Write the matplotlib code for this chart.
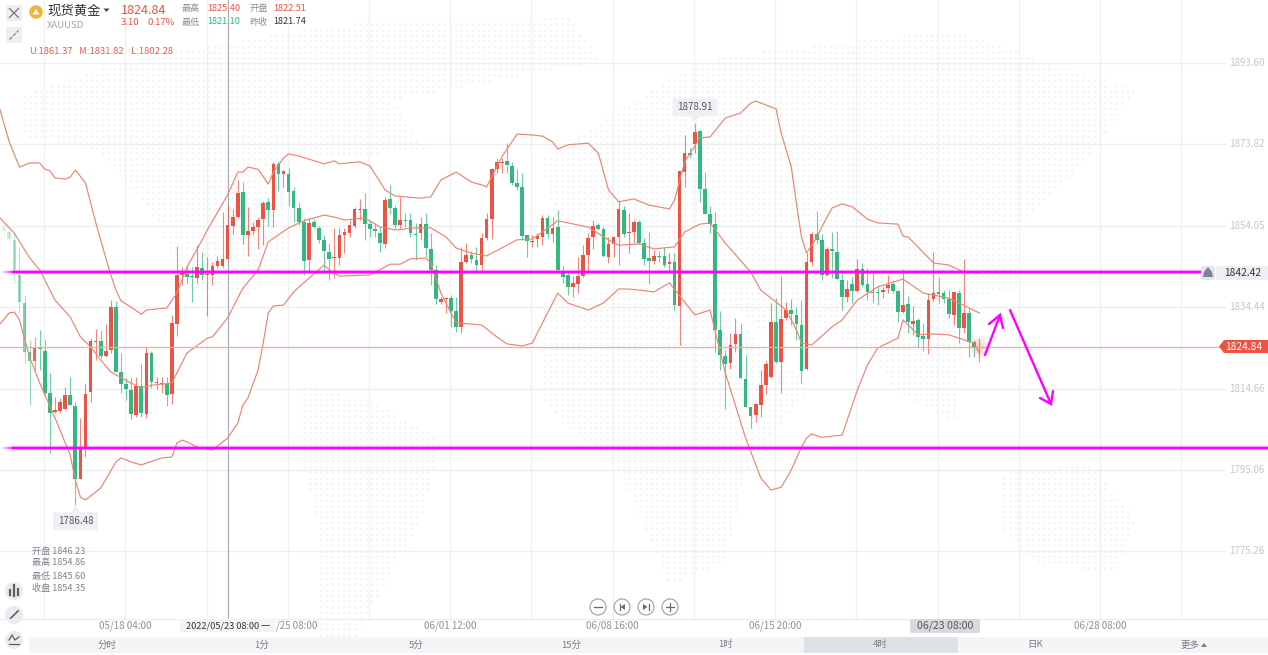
import numpy as np
import matplotlib
matplotlib.use('Agg')
import matplotlib.pyplot as plt
from matplotlib.patches import Circle, FancyBboxPatch, Polygon, Rectangle
from matplotlib.path import Path

plt.rcParams['font.family'] = ['Noto Sans CJK SC', 'DejaVu Sans']

# 4 hour candles
opens = [1853.8, 1852.6, 1850.7, 1842.2, 1835.4, 1823.5, 1821.4, 1824.5, 1823.8, 1813.6,
         1809.0, 1809.3, 1809.7, 1813.1, 1810.5, 1792.8, 1800.5, 1813.9, 1826.0, 1826.2,
         1822.6, 1824.0, 1834.4, 1818.7, 1815.8, 1814.3, 1808.3, 1815.3, 1808.5, 1823.3,
         1816.0, 1815.8, 1815.8, 1813.4, 1830.3, 1842.2, 1842.4, 1841.9, 1841.5, 1843.9,
         1842.2, 1842.2, 1844.4, 1844.4, 1846.1, 1854.0, 1856.2, 1862.3, 1851.9, 1852.8,
         1853.8, 1855.7, 1859.9, 1857.9, 1869.1, 1866.6, 1866.6, 1862.5, 1858.4, 1855.0,
         1845.8, 1855.0, 1853.6, 1850.7, 1847.8, 1846.3, 1846.3, 1851.9, 1852.4, 1854.0,
         1857.9, 1858.2, 1854.5, 1853.3, 1852.4, 1849.7, 1860.6, 1858.4, 1854.3, 1855.5,
         1855.5, 1852.1, 1852.4, 1854.5, 1848.5, 1843.4, 1835.6, 1836.4, 1836.6, 1833.5,
         1829.6, 1845.3, 1847.0, 1845.8, 1844.6, 1851.2, 1855.7, 1867.9, 1869.3, 1869.8,
         1868.6, 1864.5, 1863.5, 1851.9, 1850.2, 1850.9, 1851.4, 1856.0, 1852.1, 1853.8,
         1843.2, 1842.2, 1839.3, 1840.0, 1841.9, 1847.0, 1851.4, 1854.3, 1853.3, 1846.5,
         1849.7, 1851.4, 1857.9, 1852.4, 1852.6, 1855.0, 1849.9, 1846.3, 1845.6, 1846.8,
         1846.8, 1844.8, 1845.3, 1834.7, 1867.1, 1871.7, 1873.9, 1877.0, 1863.0, 1857.0,
         1854.5, 1828.9, 1822.6, 1820.9, 1825.5, 1827.9, 1817.0, 1810.2, 1808.3, 1810.7,
         1815.5, 1817.5, 1830.8, 1821.1, 1831.8, 1833.7, 1832.5, 1830.1, 1819.4, 1845.3,
         1852.1, 1850.7, 1842.2, 1848.5, 1847.8, 1841.0, 1836.9, 1840.0, 1838.3, 1843.6,
         1840.0, 1837.8, 1838.1, 1838.1, 1839.0, 1840.0, 1838.3, 1833.2, 1835.2, 1830.3,
         1831.3, 1827.4, 1826.7, 1836.4, 1838.1, 1837.8, 1836.4, 1832.5, 1837.8, 1829.4,
         1833.0, 1825.9, 1824.4]
closes = [1852.8, 1850.9, 1843.4, 1835.6, 1823.5, 1821.4, 1824.8, 1824.3, 1813.6, 1808.8,
          1809.5, 1811.4, 1813.1, 1810.7, 1792.8, 1800.3, 1813.4, 1826.2, 1826.2, 1822.6,
          1823.8, 1834.4, 1818.7, 1815.8, 1814.6, 1808.5, 1815.3, 1808.8, 1823.3, 1816.3,
          1816.3, 1816.0, 1813.1, 1830.6, 1842.2, 1842.9, 1841.7, 1841.7, 1844.1, 1842.2,
          1842.4, 1844.4, 1845.6, 1846.1, 1854.3, 1856.2, 1862.0, 1851.9, 1852.8, 1853.8,
          1855.5, 1859.6, 1857.9, 1869.1, 1866.6, 1867.4, 1862.3, 1858.4, 1855.0, 1845.6,
          1854.8, 1853.8, 1850.7, 1848.0, 1846.1, 1846.5, 1851.9, 1852.6, 1854.3, 1858.2,
          1858.2, 1854.5, 1853.3, 1852.8, 1849.9, 1860.3, 1858.4, 1854.3, 1855.5, 1855.3,
          1852.4, 1851.9, 1854.5, 1848.7, 1843.4, 1836.4, 1836.4, 1836.6, 1833.5, 1829.6,
          1845.3, 1847.0, 1846.1, 1844.6, 1851.2, 1855.7, 1867.9, 1869.5, 1869.5, 1868.8,
          1864.5, 1863.5, 1851.6, 1850.4, 1850.4, 1851.6, 1856.0, 1852.1, 1853.6, 1843.4,
          1841.7, 1839.3, 1840.3, 1841.9, 1847.0, 1851.2, 1854.0, 1853.3, 1846.8, 1849.7,
          1851.4, 1858.2, 1852.1, 1852.6, 1855.0, 1849.9, 1846.1, 1845.6, 1846.8, 1846.5,
          1844.6, 1845.3, 1834.9, 1867.4, 1871.7, 1871.2, 1876.8, 1863.0, 1857.0, 1854.5,
          1828.9, 1822.8, 1820.6, 1825.2, 1827.9, 1817.2, 1810.2, 1808.0, 1811.0, 1815.5,
          1820.6, 1830.8, 1821.1, 1831.5, 1833.7, 1832.7, 1830.3, 1818.9, 1845.3, 1852.1,
          1850.7, 1842.2, 1848.5, 1848.0, 1841.2, 1836.9, 1838.8, 1838.3, 1843.6, 1839.8,
          1838.1, 1838.1, 1837.8, 1838.5, 1839.8, 1838.3, 1833.2, 1834.9, 1830.8, 1831.0,
          1827.2, 1826.7, 1836.1, 1837.8, 1837.6, 1836.4, 1832.7, 1838.1, 1829.4, 1833.0,
          1825.9, 1824.5, 1824.84]
highs = [1854.5, 1853.3, 1852.3, 1849.0, 1837.3, 1826.4, 1827.2, 1828.9, 1826.4, 1818.5,
         1812.6, 1812.4, 1815.1, 1817.5, 1811.4, 1807.6, 1816.0, 1826.9, 1829.1, 1828.9,
         1830.3, 1836.1, 1835.9, 1823.3, 1817.2, 1817.5, 1817.5, 1820.6, 1824.8, 1823.8,
         1817.5, 1817.5, 1817.5, 1832.5, 1849.2, 1844.1, 1844.6, 1844.1, 1849.4, 1847.8,
         1846.5, 1845.3, 1846.8, 1857.4, 1859.1, 1858.2, 1865.2, 1864.7, 1858.7, 1855.0,
         1856.2, 1860.1, 1860.8, 1869.5, 1869.8, 1867.6, 1868.1, 1863.5, 1859.9, 1856.0,
         1856.0, 1855.7, 1854.0, 1851.9, 1849.9, 1853.6, 1853.6, 1853.6, 1855.5, 1858.7,
         1860.6, 1862.0, 1855.5, 1854.8, 1853.8, 1861.1, 1864.0, 1859.1, 1861.1, 1857.2,
         1857.2, 1854.8, 1856.2, 1857.2, 1852.4, 1844.6, 1836.9, 1836.9, 1837.3, 1836.9,
         1849.0, 1849.9, 1848.0, 1849.0, 1852.4, 1857.2, 1868.1, 1870.5, 1870.5, 1874.1,
         1869.5, 1867.9, 1866.9, 1851.9, 1851.9, 1852.4, 1856.7, 1856.7, 1856.2, 1857.9,
         1844.4, 1842.9, 1841.9, 1846.5, 1849.4, 1852.4, 1855.5, 1854.8, 1853.8, 1851.4,
         1851.6, 1860.3, 1858.9, 1857.2, 1855.5, 1855.5, 1851.2, 1852.6, 1848.2, 1848.0,
         1849.0, 1847.5, 1847.5, 1867.4, 1876.1, 1872.9, 1878.9, 1877.3, 1867.1, 1858.9,
         1857.4, 1833.5, 1824.0, 1828.1, 1831.8, 1830.6, 1822.8, 1810.2, 1811.2, 1819.2,
         1821.4, 1835.4, 1836.6, 1841.9, 1835.6, 1836.4, 1834.4, 1836.1, 1847.5, 1852.6,
         1857.7, 1852.1, 1849.0, 1852.6, 1852.8, 1842.9, 1841.0, 1841.7, 1846.1, 1845.1,
         1843.9, 1842.9, 1839.8, 1839.3, 1842.2, 1841.0, 1838.5, 1843.6, 1837.1, 1834.7,
         1831.8, 1830.6, 1837.8, 1847.8, 1841.7, 1838.5, 1838.5, 1838.1, 1838.5, 1846.1,
         1834.2, 1826.4, 1826.9]
lows = [1851.6, 1849.9, 1840.3, 1833.0, 1820.9, 1810.7, 1819.2, 1819.2, 1812.6, 1799.1,
        1808.8, 1808.8, 1809.5, 1810.7, 1786.5, 1792.8, 1798.1, 1811.4, 1821.6, 1822.1,
        1822.3, 1823.3, 1818.7, 1813.6, 1811.9, 1807.3, 1807.8, 1807.8, 1807.6, 1814.8,
        1814.6, 1813.6, 1810.5, 1811.0, 1827.4, 1839.8, 1840.3, 1835.6, 1840.3, 1841.0,
        1832.3, 1839.8, 1843.9, 1843.9, 1846.1, 1852.1, 1856.0, 1849.7, 1846.8, 1851.9,
        1848.5, 1849.4, 1854.0, 1853.8, 1862.5, 1863.5, 1858.9, 1855.0, 1854.3, 1842.2,
        1842.9, 1853.6, 1849.9, 1842.9, 1841.0, 1841.5, 1844.6, 1847.5, 1851.4, 1853.6,
        1855.5, 1850.7, 1851.4, 1851.4, 1847.8, 1848.7, 1857.0, 1853.6, 1853.6, 1853.8,
        1851.4, 1845.8, 1850.7, 1846.5, 1839.8, 1835.2, 1835.2, 1833.0, 1829.6, 1828.4,
        1828.1, 1845.1, 1845.1, 1842.9, 1843.4, 1850.7, 1850.9, 1866.9, 1866.9, 1866.9,
        1864.0, 1862.8, 1850.7, 1846.5, 1849.0, 1849.0, 1849.4, 1851.2, 1850.2, 1843.4,
        1840.3, 1837.3, 1836.9, 1837.8, 1841.7, 1842.7, 1848.5, 1853.1, 1846.5, 1845.1,
        1846.5, 1844.6, 1851.4, 1847.5, 1849.9, 1849.7, 1844.6, 1840.0, 1844.8, 1845.3,
        1844.1, 1842.9, 1833.7, 1825.2, 1863.5, 1870.5, 1871.7, 1859.9, 1857.0, 1852.4,
        1823.5, 1819.2, 1809.7, 1819.4, 1823.5, 1817.2, 1810.2, 1805.1, 1806.6, 1807.8,
        1813.4, 1817.2, 1820.9, 1813.6, 1831.3, 1830.1, 1826.4, 1816.0, 1819.2, 1844.4,
        1849.7, 1841.0, 1841.9, 1841.5, 1841.0, 1833.7, 1835.6, 1835.4, 1838.1, 1839.3,
        1836.1, 1835.6, 1834.9, 1836.6, 1837.8, 1837.8, 1830.8, 1833.0, 1828.1, 1827.7,
        1824.8, 1823.8, 1823.1, 1835.6, 1835.4, 1835.4, 1831.8, 1830.1, 1825.7, 1828.1,
        1822.3, 1822.3, 1821.1]

# bollinger bands, (bar number, price) at the bends of each line
upper_i = [-1, 1, 3, 5, 7, 8, 9, 10, 12, 13, 14, 16, 18, 20, 21, 22, 23, 25, 27, 28, 32, 34, 36, 39, 40,
           44, 46, 47, 48, 50, 52, 53, 55, 56, 58, 63, 65, 66, 70, 72, 75, 77, 82, 84, 86, 89, 92, 94, 95,
           98, 101, 104, 106, 108, 109, 111, 115, 117, 119, 121, 124, 127, 131, 132, 134, 137, 139, 142,
           145, 147, 148, 152, 153, 155, 156, 157, 158, 160, 161, 163, 165, 167, 170, 172, 176, 177, 178,
           183, 186, 189, 192]
upper_p = [1882.9, 1874.4, 1868.3, 1869.3, 1869.3, 1867.8, 1867.4, 1865.7, 1865.4, 1865.9, 1867.6, 1864.5,
           1855.0, 1846.3, 1842.2, 1838.5, 1835.9, 1834.4, 1832.7, 1833.7, 1834.2, 1837.8, 1844.1, 1850.7,
           1853.1, 1861.6, 1867.1, 1867.1, 1868.3, 1867.8, 1864.2, 1867.1, 1870.5, 1871.5, 1871.0, 1869.1,
           1869.8, 1869.1, 1869.6, 1868.6, 1862.8, 1861.3, 1860.8, 1861.1, 1865.2, 1867.1, 1864.7, 1864.0,
           1863.5, 1870.8, 1876.3, 1876.1, 1875.8, 1874.4, 1872.7, 1873.7, 1874.1, 1871.7, 1862.8, 1859.9,
           1860.6, 1859.1, 1858.2, 1860.3, 1869.6, 1875.4, 1875.6, 1880.2, 1881.4, 1883.8, 1884.3, 1882.4,
           1876.6, 1868.3, 1859.6, 1851.4, 1847.5, 1851.2, 1853.8, 1858.4, 1859.4, 1858.7, 1855.7, 1854.8,
           1854.5, 1851.6, 1851.4, 1845.1, 1844.6, 1842.9, 1842.7]
middle_i = [-1, 2, 5, 7, 10, 13, 15, 17, 19, 21, 25, 27, 29, 33, 35, 36, 40, 41, 44, 47, 50, 52, 56, 59, 63,
            65, 67, 71, 74, 77, 81, 84, 87, 89, 92, 95, 101, 104, 106, 109, 115, 119, 121, 125, 128, 132,
            134, 137, 139, 142, 147, 149, 151, 154, 156, 157, 159, 163, 165, 168, 172, 177, 181, 186, 192]
middle_p = [1856.2, 1852.3, 1846.3, 1843.4, 1836.1, 1832.0, 1827.2, 1824.8, 1821.6, 1818.7, 1816.0, 1814.8,
            1815.5, 1816.0, 1820.9, 1823.3, 1826.9, 1827.2, 1831.8, 1839.0, 1843.4, 1850.2, 1853.6, 1855.3,
            1856.7, 1856.2, 1855.5, 1856.0, 1853.8, 1853.1, 1853.6, 1853.6, 1851.4, 1848.7, 1847.5, 1846.8,
            1850.7, 1850.9, 1852.6, 1855.3, 1853.8, 1850.7, 1849.4, 1849.7, 1848.5, 1849.0, 1852.6, 1854.5,
            1854.8, 1849.9, 1842.9, 1838.5, 1836.6, 1833.7, 1828.9, 1825.7, 1825.2, 1829.6, 1831.3, 1836.1,
            1839.3, 1841.2, 1837.8, 1836.6, 1833.0]
lower_i = [-1, 1, 2, 3, 5, 7, 10, 13, 14, 15, 16, 19, 22, 23, 25, 27, 31, 33, 34, 35, 36, 38, 41, 44, 46, 47,
           48, 50, 51, 52, 53, 55, 57, 59, 63, 64, 66, 72, 76, 78, 80, 83, 84, 86, 89, 94, 97, 99, 102, 104,
           106, 109, 111, 115, 118, 121, 123, 128, 131, 136, 139, 142, 146, 149, 151, 153, 155, 157, 158,
           159, 161, 165, 168, 170, 172, 176, 177, 180, 183, 186, 188, 191, 192]
lower_p = [1830.1, 1833.0, 1833.2, 1831.3, 1822.3, 1816.0, 1807.6, 1798.6, 1792.5, 1788.4, 1787.7, 1790.6,
           1796.9, 1797.9, 1796.9, 1796.2, 1797.9, 1798.1, 1801.5, 1802.2, 1801.8, 1800.5, 1799.8, 1802.7,
           1806.3, 1810.7, 1812.4, 1819.2, 1825.7, 1833.0, 1834.7, 1834.9, 1838.1, 1840.3, 1844.6, 1843.4,
           1841.9, 1842.2, 1844.8, 1844.8, 1846.1, 1846.3, 1845.1, 1837.8, 1830.6, 1830.1, 1827.2, 1825.5,
           1825.0, 1825.7, 1830.6, 1837.8, 1835.4, 1833.7, 1835.4, 1838.8, 1838.8, 1838.1, 1840.3, 1832.5,
           1833.7, 1818.5, 1802.7, 1793.0, 1790.1, 1790.8, 1795.0, 1800.5, 1802.7, 1803.7, 1802.9, 1803.4,
           1814.3, 1820.4, 1824.5, 1826.9, 1831.3, 1827.7, 1827.9, 1827.7, 1826.9, 1825.7, 1823.3]

price_ticks = [1893.60, 1873.82, 1854.05, 1834.44, 1814.66, 1795.06, 1775.26]
date_labels = ['05/18 04:00', '/25 08:00', '06/01 12:00', '06/08 16:00', '06/15 20:00', '06/28 08:00']
date_x = [125, 297, 450, 612, 775, 1100]
crosshair_date = '2022/05/23 08:00 一'
last_price = 1824.84
alert_price = 1842.42
support = 1800.3
resistance = 1842.9
tabs = ['分时', '1分', '5分', '15分', '1时', '4时', '日K', '更多']

RED = '#ec5344'
GREEN = '#35b880'
BAND = '#e98672'
MAGENTA = '#ff00ff'

W, H = 1268, 655
fig = plt.figure(figsize=(W / 100, H / 100), dpi=100, facecolor='white')

# background layer + overlay layer work in screen pixels
bg = fig.add_axes([0, 0, 1, 1], zorder=0)
ax = fig.add_axes([0, 0, 1, 1], zorder=1)
ui = fig.add_axes([0, 0, 1, 1], zorder=2)
for a in (bg, ui):
    a.set_xlim(0, W)
    a.set_ylim(H, 0)
    a.axis('off')
ui.patch.set_alpha(0)
ax.patch.set_alpha(0)

# faint dotted world map
continents = [
    [(20, 95), (130, 60), (330, 25), (570, 18), (600, 60), (390, 100), (425, 150), (280, 160), (290, 250),
     (250, 295), (190, 290), (150, 210), (100, 150), (20, 135)],
    [(300, 385), (370, 400), (440, 440), (420, 520), (375, 600), (345, 655), (320, 640), (320, 530), (300, 450)],
    [(540, 160), (700, 60), (950, 30), (1135, 90), (1085, 160), (1015, 230), (1020, 285), (965, 300), (955, 420),
     (900, 395), (860, 340), (760, 330), (690, 270), (560, 240)],
    [(540, 300), (690, 280), (770, 350), (810, 385), (745, 470), (725, 560), (670, 585), (620, 470), (540, 400)],
    [(1005, 470), (1090, 465), (1135, 520), (1115, 570), (1040, 565), (1000, 530)],
]
gx, gy = np.meshgrid(np.arange(2, W, 5.6), np.arange(2, H, 5.6))
pts = np.column_stack([gx.ravel(), gy.ravel()])
mask = np.zeros(len(pts), dtype=bool)
for c in continents:
    mask |= Path(c).contains_points(pts)
bg.scatter(pts[mask, 0], pts[mask, 1], s=4, color='#f4f5f7', linewidths=0)

# pixel x = 4.2 + 5.078 * bar, pixel y = (1908.77 - price) * 4.13
ax.set_xlim(-4.2 / 5.078, (W - 4.2) / 5.078)
ax.set_ylim(1908.77 - H / 4.13, 1908.77)
ax.axis('off')

bars = np.arange(len(closes))
for k in range(15):
    ax.plot([7.84 + 16 * k] * 2, [1908.77 - 619 / 4.13, 1908.77], color='#eef0f3', lw=0.9, zorder=1)
for p in price_ticks:
    ax.plot([-1, (1225 - 4.2) / 5.078], [p, p], color='#eceef2', lw=0.9, zorder=1)

ax.plot([44, 44], [1908.77 - 619 / 4.13, 1908.77], color='#a4a8ba', lw=0.8, zorder=2)

# candles, the oldest ones fade out at the left edge
for i in bars:
    up = closes[i] >= opens[i]
    col = RED if up else GREEN
    fade = min(1, 0.15 + i * 0.12)
    ax.plot([i, i], [lows[i], highs[i]], color=col, lw=0.8, alpha=0.7 * fade, zorder=3, solid_capstyle='butt')
    ax.bar(i, abs(closes[i] - opens[i]), bottom=min(opens[i], closes[i]), width=0.72, color=col,
           alpha=fade, linewidth=0, zorder=4)

ax.plot(upper_i, upper_p, color=BAND, lw=0.85, zorder=5, solid_joinstyle='round')
ax.plot(middle_i, middle_p, color=BAND, lw=0.85, zorder=5, solid_joinstyle='round')
ax.plot(lower_i, lower_p, color=BAND, lw=0.85, zorder=5, solid_joinstyle='round')

ax.plot([-1, (1219 - 4.2) / 5.078], [last_price, last_price], color='#f5a99f', lw=0.9, zorder=5)

# glow on the live candle
for r, al in zip([11, 8, 5], [0.06, 0.08, 0.1]):
    ui.add_patch(Circle((979, 347), r, color=RED, alpha=al, lw=0))

# hand drawn levels
ax.plot([(14 - 4.2) / 5.078, (1205 - 4.2) / 5.078], [resistance, resistance], color=MAGENTA, lw=3, alpha=0.3, zorder=6)
ax.plot([(14 - 4.2) / 5.078, (1205 - 4.2) / 5.078], [resistance, resistance], color=MAGENTA, lw=1.7, zorder=7)
ax.plot([(14 - 4.2) / 5.078, (W - 4.2) / 5.078], [support, support], color=MAGENTA, lw=3, alpha=0.3, zorder=6)
ax.plot([(14 - 4.2) / 5.078, (W - 4.2) / 5.078], [support, support], color=MAGENTA, lw=1.7, zorder=7)
for x in range(0, 14):
    for lvl in (resistance, support):
        ax.plot([(x - 4.2) / 5.078, (x + 1 - 4.2) / 5.078], [lvl, lvl], color=MAGENTA, lw=1.7,
                alpha=x / 14, zorder=7, solid_capstyle='butt')

for seg in ([(985, 355), (1000, 315)], [(989, 324), (1000, 315), (1003, 328)],
            [(1010, 310), (1051, 404)], [(1040, 398), (1051, 404), (1053, 391)]):
    ui.plot(*zip(*seg), color=MAGENTA, lw=1.7, solid_capstyle='round', solid_joinstyle='miter')

# price axis
for p in price_ticks:
    ui.text(1229, (1908.77 - p) * 4.13, f'{p:.2f}', color='#c3c7cf', fontsize=7, va='center', ha='left')
ui.add_patch(Polygon([(1219, 346.5), (1224, 340), (1268, 340), (1268, 353), (1224, 353)], color=RED, lw=0))
ui.text(1244, 346.5, f'{last_price:.2f}', color='white', fontsize=7.3, va='center', ha='center')
ui.add_patch(Rectangle((1216, 266), 52, 14, color='#eeeff4', lw=0))
ui.text(1243, 273, f'{alert_price:.2f}', color='#333333', fontsize=7.3, va='center', ha='center')
ui.add_patch(FancyBboxPatch((1203, 268), 10, 10, boxstyle='round,pad=2', color='#e4e6ec', lw=0))
ui.add_patch(Polygon([(1208, 267), (1212, 272), (1213, 277), (1203, 277), (1204, 272)], color='#7d8290', lw=0))

# high / low tags
for cx, top, pointer, txt in [(695, 99, 122, '1878.91'), (75.5, 513, 506, '1786.48')]:
    ui.add_patch(FancyBboxPatch((cx - 21, top + 1), 42, 15, boxstyle='round,pad=1.5', color='#eef0f3', lw=0))
    if pointer > top:
        ui.add_patch(Polygon([(cx - 5, top + 17), (cx + 5, top + 17), (cx, pointer)], color='#eef0f3', lw=0))
    else:
        ui.add_patch(Polygon([(cx - 5, top), (cx + 5, top), (cx, pointer)], color='#eef0f3', lw=0))
    ui.text(cx, top + 8.5, txt, color='#55585f', fontsize=7, va='center', ha='center')

# header
ui.add_patch(FancyBboxPatch((7, 6), 14, 14, boxstyle='round,pad=1', color='#eceef1', lw=0))
ui.plot([9.5, 18.5], [8.5, 17.5], color='#6f7580', lw=0.9)
ui.plot([18.5, 9.5], [8.5, 17.5], color='#6f7580', lw=0.9)
ui.add_patch(FancyBboxPatch((7, 28), 14, 14, boxstyle='round,pad=1', color='#eceef1', lw=0))
ui.plot([9.5, 18.5], [39.5, 30.5], color='#7d8290', lw=0.9, ls=(0, (3, 1)))
ui.add_patch(Circle((36, 12), 6.8, color='#f2b33a', lw=0))
ui.add_patch(Polygon([(32.5, 14.5), (36, 9), (39.5, 14.5)], color='white', lw=0))
ui.text(47, 10.5, '现货黄金', color='#333333', fontsize=9.6, va='center', ha='left')
ui.add_patch(Polygon([(103.5, 8.5), (109.5, 8.5), (106.5, 12)], color='#444444', lw=0))
ui.text(47, 25, 'XAUUSD', color='#a0a4ac', fontsize=6.9, va='center', ha='left')
ui.text(121, 10, '1824.84', color=RED, fontsize=9.0, va='center', ha='left')
ui.text(121, 22.5, '3.10', color=RED, fontsize=6.8, va='center', ha='left')
ui.text(148, 22.5, '0.17%', color=RED, fontsize=6.8, va='center', ha='left')
for x, y, txt, col in [(182, 8.5, '最高', '#8a8e96'), (207, 8.5, '1825.40', RED),
                       (249, 8.5, '开盘', '#8a8e96'), (273, 8.5, '1822.51', RED),
                       (182, 22, '最低', '#8a8e96'), (207, 22, '1821.10', GREEN),
                       (249, 22, '昨收', '#8a8e96'), (273, 22, '1821.74', '#333333')]:
    ui.text(x, y, txt, color=col, fontsize=6.6, va='center', ha='left')
for x, txt in [(29, 'U:1861.37'), (79, 'M:1831.82'), (131, 'L:1802.28')]:
    ui.text(x, 51.5, txt, color='#e4604f', fontsize=6.8, va='center', ha='left')

# ohlc of the hovered candle
for y, txt in [(551, '开盘 1846.23'), (563, '最高 1854.86'), (576, '最低 1845.60'), (588, '收盘 1854.35')]:
    ui.text(32, y, txt, color='#80848c', fontsize=6.6, va='center', ha='left')

# left tool buttons
for y in (591, 615, 640):
    ui.add_patch(Circle((14, y), 9, color='#e9ebef', lw=0))
for dx, y0, y1 in [(-4, 590, 595), (0, 585, 596), (4, 589, 595)]:
    ui.plot([14 + dx, 14 + dx], [y0, y1], color='#59606e', lw=1.6)
ui.plot([10, 18], [619, 611], color='#59606e', lw=1.2)
ui.plot([9, 12, 15, 19], [640, 635, 640, 637], color='#59606e', lw=0.9)
ui.plot([9, 19], [644, 644], color='#59606e', lw=0.9)

# zoom buttons
for x in (598, 622, 646, 670):
    ui.add_patch(Circle((x, 607), 8, facecolor='white', edgecolor='#9a9ea6', lw=0.8))
ui.plot([594, 602], [607, 607], color='#666a72', lw=0.9)
ui.plot([666, 674], [607, 607], color='#666a72', lw=0.9)
ui.plot([670, 670], [603, 611], color='#666a72', lw=0.9)
ui.plot([619.5, 619.5], [604, 610], color='#666a72', lw=0.9)
ui.add_patch(Polygon([(625, 604), (625, 610), (620.5, 607)], color='#666a72', lw=0))
ui.plot([648.5, 648.5], [604, 610], color='#666a72', lw=0.9)
ui.add_patch(Polygon([(643, 604), (643, 610), (647.5, 607)], color='#666a72', lw=0))

# time axis
ui.plot([0, W], [619, 619], color='#eceef2', lw=1)
for x, txt in zip(date_x, date_labels):
    ui.text(x, 625.5, txt, color='#8c9098', fontsize=7, va='center', ha='center')
ui.add_patch(Rectangle((180, 619), 95, 13, color='#f4f5f7', lw=0, zorder=3))
ui.text(228, 625.5, crosshair_date, color='#33363c', fontsize=6.6, va='center', ha='center', zorder=4)
ui.add_patch(FancyBboxPatch((912, 621), 66, 10, boxstyle='round,pad=2', color='#d8d9dc', lw=0, zorder=3))
ui.text(945, 625.5, '06/23 08:00', color='#55585f', fontsize=7.6, va='center', ha='center', zorder=4)

# period tabs
ui.add_patch(Rectangle((29, 637), W - 29, 16, color='#f4f5f7', lw=0))
ui.add_patch(Rectangle((803.5, 637), 154.5, 16, color='#dde1e8', lw=0))
for k, txt in enumerate(tabs):
    ui.text(107 + 154.7 * k, 645, txt, color='#777b83', fontsize=6.8, va='center', ha='center')
ui.add_patch(Polygon([(1201, 647), (1207, 647), (1204, 643)], color='#777b83', lw=0))

fig.savefig('out.png', dpi=100)
